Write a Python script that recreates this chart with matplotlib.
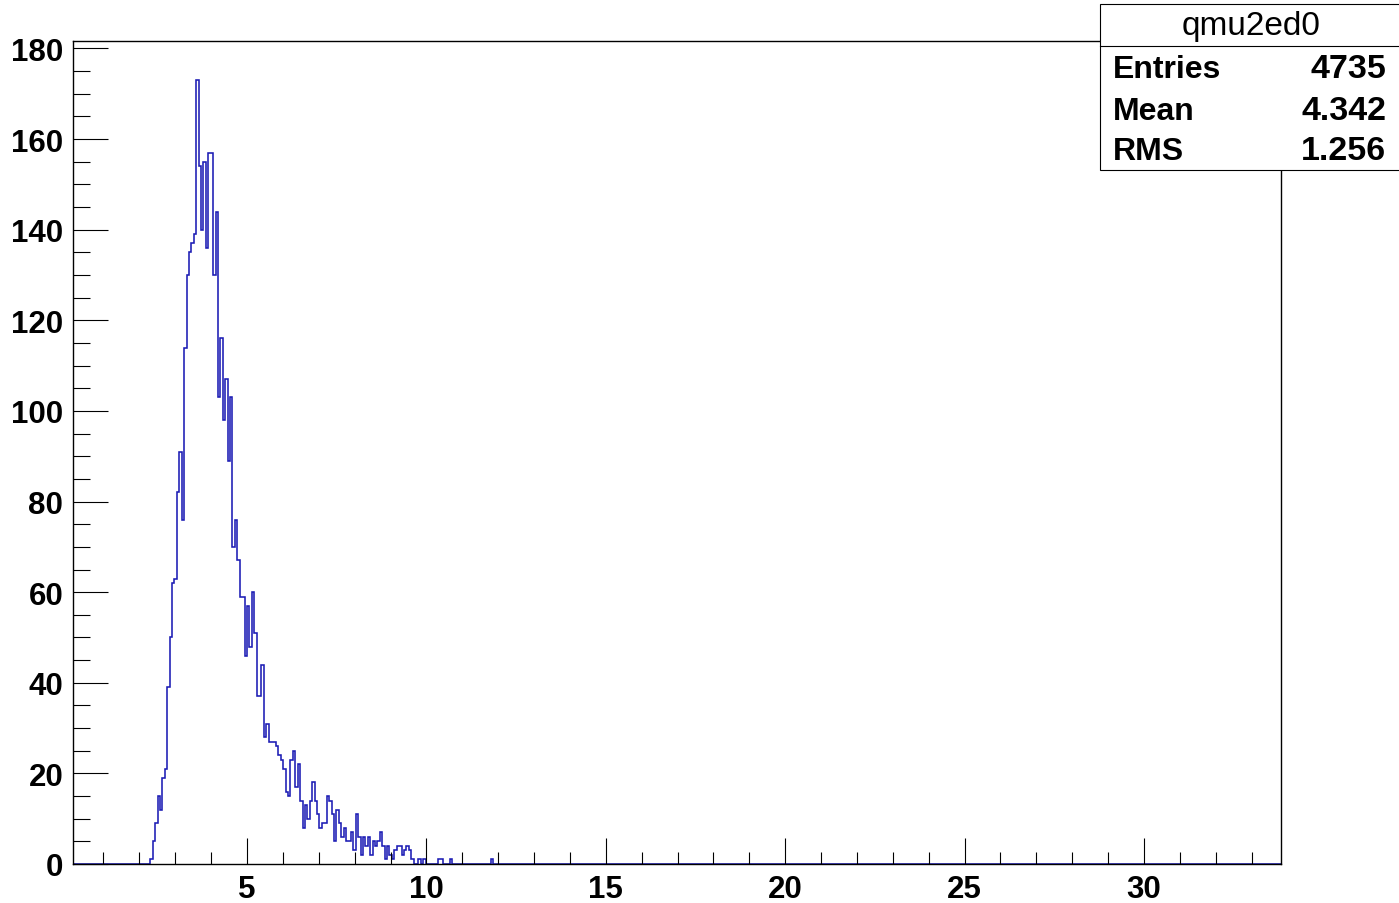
import numpy as np
import matplotlib
matplotlib.use("Agg")
import matplotlib.pyplot as plt
from matplotlib.patches import Rectangle
from matplotlib.ticker import MultipleLocator

# histogram binning: 500 bins over the axis range
X_MIN, X_MAX = 0.15, 33.82
N_BINS = 500
FIRST_BIN = 32

# bin contents, read left to right starting at FIRST_BIN
rise = [1, 5, 9, 15, 12, 19, 21, 39, 50, 62, 63, 82, 91, 76, 114, 130, 135, 137, 139]
peak = [173, 154, 140, 155, 136, 157, 157, 130, 144, 103, 116, 98, 107, 89, 103]
decline = [70, 76, 67, 59, 59, 46, 57, 48, 60, 51,
           37, 37, 44, 28, 31, 27, 27, 27, 26, 24,
           23, 21, 16, 15, 23, 25, 17, 22, 14, 8,
           13, 10, 14, 18, 14, 11, 8, 9, 9, 15,
           14, 11, 5, 12, 9, 6, 8, 5, 5, 7,
           3, 11, 6, 2, 6, 4, 6, 2, 5, 4, 5]
tail = [7, 4, 1, 4, 2, 1, 3, 4, 4, 2, 3, 4, 3, 1, 0, 0, 1, 0, 1]

# isolated entries further out
far_bins = [151, 152, 156, 173]
far_counts = [1, 1, 1, 1]

hist_name = "qmu2ed0"
stat_labels = ["Entries", "Mean", "RMS"]
stat_values = ["4735", "4.342", "1.256"]

edges = np.linspace(X_MIN, X_MAX, N_BINS + 1)
counts = np.zeros(N_BINS)
core = rise + peak + decline + tail
counts[FIRST_BIN:FIRST_BIN + len(core)] = core
counts[far_bins] = far_counts

W, H = 1399, 904
fig = plt.figure(figsize=(W / 100, H / 100), dpi=100)
ax = fig.add_axes([73 / W, 1 - 865 / H, (1281 - 73) / W, (865 - 42) / H])

ax.stairs(counts, edges, baseline=0, color="#1c1cb4", linewidth=1.15, zorder=1)

ax.set_xlim(X_MIN, X_MAX)
ax.set_ylim(0, 1.05 * counts.max())

ax.xaxis.set_major_locator(MultipleLocator(5))
ax.xaxis.set_minor_locator(MultipleLocator(1))
ax.yaxis.set_major_locator(MultipleLocator(20))
ax.yaxis.set_minor_locator(MultipleLocator(5))

ax.tick_params(axis="x", which="major", direction="in", length=19, width=0.8, pad=7)
ax.tick_params(axis="x", which="minor", direction="in", length=9, width=0.8)
ax.tick_params(axis="y", which="major", direction="in", length=25, width=0.8, pad=7)
ax.tick_params(axis="y", which="minor", direction="in", length=12.5, width=0.8)
ax.tick_params(top=False, right=False, which="both")

for lab in ax.get_xticklabels() + ax.get_yticklabels():
    lab.set_fontfamily("Liberation Sans")
    lab.set_fontweight("bold")
    lab.set_fontsize(22.5)

for sp in ax.spines.values():
    sp.set_linewidth(1.0)
    sp.set_color("black")

# statistics box in the top right corner
bx0, bx1 = 1100 / W, 1.01
by0, by1 = 1 - 171 / H, 1 - 5 / H
fig.patches.append(Rectangle((bx0, by0), bx1 - bx0, by1 - by0, transform=fig.transFigure,
                             facecolor="white", edgecolor="black", linewidth=0.8, zorder=5))
fig.lines.append(plt.Line2D([bx0, bx1], [1 - 47 / H] * 2, transform=fig.transFigure,
                            color="black", linewidth=0.8, zorder=6))

fig.text(1251 / W, 1 - 27 / H, hist_name, ha="center", va="center",
         fontsize=24, family="Liberation Sans", zorder=7)
row_y = [70, 112, 152]
for lbl, val, yp in zip(stat_labels, stat_values, row_y):
    fig.text(1113 / W, 1 - yp / H, lbl, ha="left", va="center", fontsize=23,
             family="Liberation Sans", fontweight="bold", zorder=7)
    fig.text(1386 / W, 1 - yp / H, val, ha="right", va="center", fontsize=24.5,
             family="Liberation Sans", fontweight="bold", zorder=7)

fig.savefig("out.png", dpi=100)
